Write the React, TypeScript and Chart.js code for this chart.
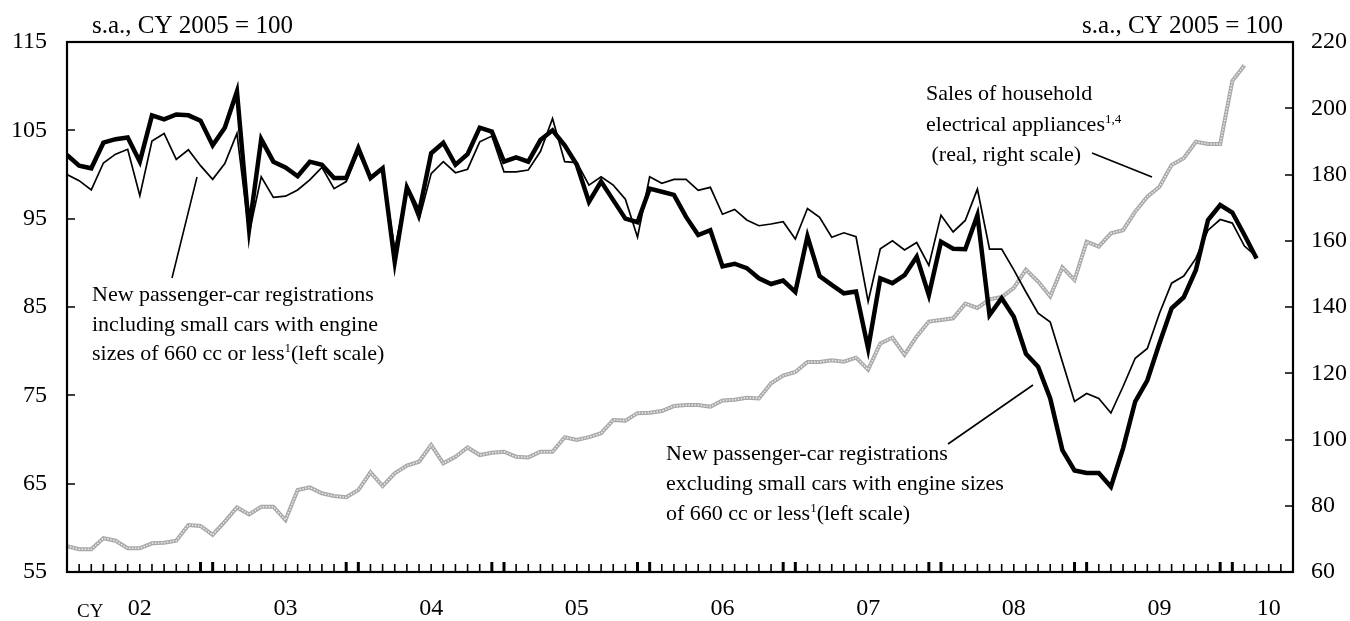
import React, { useEffect, useRef } from "react";
import { Chart, registerables } from "chart.js";

Chart.register(...registerables);

// Month index 0 = Jan 2002
const excludingSmall: number[] = [
  102.2, 101.0, 100.7, 103.6, 104.0, 104.2, 101.45, 106.7, 106.25, 106.8, 106.7, 106.1,
  103.3, 105.3, 109.4, 93.8, 104.0, 101.45, 100.8, 99.8, 101.45, 101.1, 99.6, 99.6,
  103.0, 99.6, 100.7, 90.1, 98.55, 95.7, 102.4, 103.6, 101.1, 102.3, 105.3, 104.85,
  101.45, 101.95, 101.45, 103.9, 105.0, 103.3, 101.1, 96.9, 99.2, 97.1, 95.0, 94.6,
  98.4, 98.05, 97.7, 95.2, 93.15, 93.7, 89.6, 89.9, 89.4, 88.25, 87.6, 88.0,
  86.7, 93.0, 88.5, 87.5, 86.55, 86.75, 80.3, 88.25, 87.7, 88.6, 90.7, 86.35,
  92.4, 91.6, 91.55, 95.4, 84.1, 86.0, 83.9, 79.7, 78.25, 74.65, 68.8, 66.5,
  66.2, 66.2, 64.65, 69.0, 74.3, 76.7, 80.9, 84.85, 86.1, 89.2, 94.85, 96.55,
  95.7, 93.15, 90.5,
];

const includingSmall: number[] = [
  100.0, 99.3, 98.25, 101.3, 102.3, 102.85, 97.6, 103.8, 104.65, 101.7, 102.8, 101.0,
  99.45, 101.25, 104.65, 93.3, 99.75, 97.4, 97.55, 98.25, 99.4, 100.8, 98.4, 99.2,
  102.5, 99.5, 100.6, 91.5, 98.4, 94.85, 100.1, 101.45, 100.2, 100.6, 103.7, 104.35,
  100.3, 100.3, 100.5, 102.6, 106.35, 101.45, 101.35, 98.8, 99.75, 98.8, 97.2, 92.9,
  99.75, 99.0, 99.45, 99.45, 98.2, 98.55, 95.5, 96.05, 94.85, 94.2, 94.4, 94.65,
  92.7, 96.15, 95.15, 92.9, 93.4, 92.95, 85.6, 91.6, 92.5, 91.45, 92.3, 89.7,
  95.4, 93.5, 94.8, 98.35, 91.55, 91.55, 89.2, 86.7, 84.3, 83.3, 78.8, 74.3,
  75.2, 74.65, 73.0, 76.0, 79.2, 80.3, 84.3, 87.7, 88.5, 90.5, 93.7, 94.9,
  94.5, 91.9, 90.7,
];

const appliances: number[] = [
  67.8, 66.85, 66.85, 70.2, 69.45, 67.15, 67.15, 68.65, 68.85, 69.45, 74.2, 73.9,
  71.2, 75.2, 79.5, 77.4, 79.7, 79.7, 75.7, 84.75, 85.55, 83.75, 82.95, 82.55,
  84.75, 90.1, 85.95, 89.8, 92.1, 93.3, 98.35, 92.8, 94.8, 97.6, 95.3, 96.0,
  96.3, 94.8, 94.6, 96.3, 96.3, 100.7, 99.85, 100.7, 101.9, 105.9, 105.7, 107.95,
  108.1, 108.6, 110.1, 110.4, 110.4, 109.9, 111.8, 112.0, 112.6, 112.4, 117.0, 119.3,
  120.4, 123.4, 123.4, 123.9, 123.5, 124.7, 121.1, 129.0, 130.7, 125.6, 131.1, 135.6,
  136.1, 136.6, 141.0, 139.7, 142.3, 143.0, 145.8, 151.3, 147.7, 143.2, 152.0, 148.15,
  159.7, 158.2, 162.25, 163.2, 168.8, 173.3, 176.3, 182.9, 184.9, 189.9, 189.2, 189.2,
  208.2, 213.0,
];

const yearLabels: string[] = ["02", "03", "04", "05", "06", "07", "08", "09", "10"];
const yearLabelMonths: number[] = [6, 18, 30, 42, 54, 66, 78, 90, 99];
const leftTicks: number[] = [55, 65, 75, 85, 95, 105, 115];
const rightTicks: number[] = [60, 80, 100, 120, 140, 160, 180, 200, 220];
const monthTickCount = 100;
const axisMonths = 101;

const SERIF = "'Liberation Serif', 'Times New Roman', serif";

const toXY = (arr: number[]) => arr.map((v, i) => ({ x: i, y: v }));

function drawSupText(
  ctx: CanvasRenderingContext2D,
  parts: { t: string; sup?: boolean }[],
  x: number,
  y: number,
  size: number
) {
  let cx = x;
  for (const p of parts) {
    if (p.sup) {
      ctx.font = `${Math.round(size * 0.6)}px ${SERIF}`;
      ctx.fillText(p.t, cx, y - size * 0.38);
    } else {
      ctx.font = `${size}px ${SERIF}`;
      ctx.fillText(p.t, cx, y);
    }
    cx += ctx.measureText(p.t).width;
  }
}

const overlayPlugin = {
  id: "overlayPlugin",
  afterDatasetsDraw(chart: any) {
    const { ctx, chartArea: a, scales } = chart;
    const xs = scales.x;
    const yl = scales.y;
    const yr = scales.y1;
    ctx.save();
    ctx.strokeStyle = "#000";
    ctx.fillStyle = "#000";

    // frame
    ctx.lineWidth = 2.2;
    ctx.strokeRect(a.left, a.top, a.right - a.left, a.bottom - a.top);

    // y ticks (inward)
    ctx.lineWidth = 1.6;
    ctx.beginPath();
    for (const v of leftTicks) {
      const py = Math.round(yl.getPixelForValue(v));
      ctx.moveTo(a.left, py);
      ctx.lineTo(a.left + 8, py);
    }
    for (const v of rightTicks) {
      const py = Math.round(yr.getPixelForValue(v));
      ctx.moveTo(a.right, py);
      ctx.lineTo(a.right - 8, py);
    }
    ctx.stroke();

    // month ticks
    for (let m = 1; m <= monthTickCount; m++) {
      const px = xs.getPixelForValue(m);
      const thick = m % 12 === 11 || m % 12 === 0;
      ctx.lineWidth = thick ? 3 : 1.6;
      ctx.beginPath();
      ctx.moveTo(px, a.bottom);
      ctx.lineTo(px, a.bottom - (thick ? 10 : 8));
      ctx.stroke();
    }

    // CY label
    ctx.textBaseline = "alphabetic";
    ctx.textAlign = "left";
    ctx.font = `19px ${SERIF}`;
    ctx.fillText("CY", 77, 617);

    // unit titles
    ctx.font = `25px ${SERIF}`;
    ctx.textAlign = "left";
    ctx.fillText("s.a., CY 2005 = 100", 92, 33);
    ctx.textAlign = "right";
    ctx.fillText("s.a., CY 2005 = 100", 1283, 33);

    // annotations
    ctx.textAlign = "left";
    const fs = 22;
    ctx.font = `${fs}px ${SERIF}`;
    ctx.fillText("New passenger-car registrations", 92, 301);
    ctx.fillText("including small cars with engine", 92, 330.5);
    drawSupText(ctx, [{ t: "sizes of 660 cc or less" }, { t: "1", sup: true }, { t: "(left scale)" }], 92, 360, fs);

    ctx.font = `${fs}px ${SERIF}`;
    ctx.fillText("Sales of household", 926, 100);
    drawSupText(ctx, [{ t: "electrical appliances" }, { t: "1,4", sup: true }], 926, 131, fs);
    ctx.font = `${fs}px ${SERIF}`;
    ctx.fillText(" (real, right scale)", 926, 161);

    ctx.fillText("New passenger-car registrations", 666, 460);
    ctx.fillText("excluding small cars with engine sizes", 666, 490);
    drawSupText(ctx, [{ t: "of 660 cc or less" }, { t: "1", sup: true }, { t: "(left scale)" }], 666, 520, fs);

    // leader lines
    ctx.lineWidth = 1.6;
    ctx.beginPath();
    ctx.moveTo(172, 278);
    ctx.lineTo(197, 177);
    ctx.moveTo(1092, 153);
    ctx.lineTo(1152, 177);
    ctx.moveTo(948, 444);
    ctx.lineTo(1033, 385);
    ctx.stroke();

    ctx.restore();
  },
};

export default function App() {
  const canvasRef = useRef<HTMLCanvasElement | null>(null);

  useEffect(() => {
    const canvas = canvasRef.current;
    if (!canvas) return;
    const chart = new Chart(canvas, {
      type: "line",
      data: {
        datasets: [
          {
            label: "excluding",
            data: toXY(excludingSmall),
            borderColor: "#000",
            borderWidth: 4.5,
            pointRadius: 0,
            yAxisID: "y",
            order: 0,
            borderJoinStyle: "miter",
          },
          {
            label: "including",
            data: toXY(includingSmall),
            borderColor: "#000",
            borderWidth: 1.7,
            pointRadius: 0,
            yAxisID: "y",
            order: 1,
          },
          {
            label: "appliancesTexture",
            data: toXY(appliances),
            borderColor: "#ececec",
            borderWidth: 1.5,
            borderDash: [1.5, 1.5],
            pointRadius: 0,
            yAxisID: "y1",
            order: 2,
          },
          {
            label: "appliances",
            data: toXY(appliances),
            borderColor: "#a9a9a9",
            borderWidth: 4,
            pointRadius: 0,
            yAxisID: "y1",
            order: 3,
          },
        ],
      },
      options: {
        animation: false,
        responsive: true,
        maintainAspectRatio: false,
        layout: { padding: { top: 42, left: 0, right: 0, bottom: 0 } },
        plugins: { legend: { display: false }, tooltip: { enabled: false } },
        scales: {
          x: {
            type: "linear",
            min: 0,
            max: axisMonths,
            grid: { display: false, drawTicks: false },
            border: { display: false },
            afterBuildTicks: (scale: any) => {
              scale.ticks = yearLabelMonths.map((v) => ({ value: v }));
            },
            afterFit: (scale: any) => {
              scale.height = 49;
            },
            ticks: {
              autoSkip: false,
              maxRotation: 0,
              padding: 22,
              color: "#000",
              font: { family: SERIF, size: 24 },
              callback: (_v: any, i: number) => yearLabels[i],
            },
          },
          y: {
            type: "linear",
            position: "left",
            min: 55,
            max: 115,
            grid: { display: false, drawTicks: false },
            border: { display: false },
            afterFit: (scale: any) => {
              scale.width = 67;
            },
            ticks: {
              stepSize: 10,
              padding: 20,
              color: "#000",
              font: { family: SERIF, size: 24 },
            },
          },
          y1: {
            type: "linear",
            position: "right",
            min: 60,
            max: 220,
            grid: { display: false, drawTicks: false },
            border: { display: false },
            afterFit: (scale: any) => {
              scale.width = 57;
            },
            ticks: {
              stepSize: 20,
              padding: 18,
              color: "#000",
              font: { family: SERIF, size: 24 },
            },
          },
        },
      },
      plugins: [overlayPlugin],
    });
    return () => chart.destroy();
  }, []);

  return (
    <div style={{ position: "fixed", left: 0, top: 0, width: 1350, height: 621, background: "#fff" }}>
      <canvas ref={canvasRef} />
    </div>
  );
}
